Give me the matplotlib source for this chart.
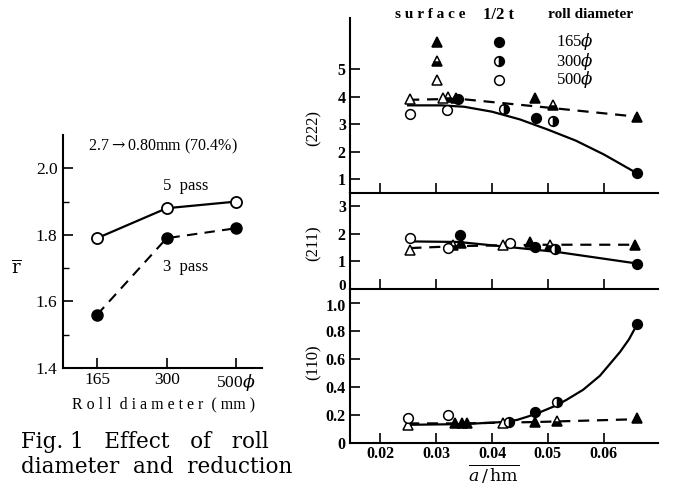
import matplotlib
matplotlib.use("Agg")
import matplotlib.pyplot as plt
from matplotlib.lines import Line2D
import matplotlib.transforms as mtransforms

W, H = 689, 488
SERIF = ['Liberation Serif', 'DejaVu Serif']
plt.rcParams['font.family'] = SERIF
plt.rcParams['mathtext.fontset'] = 'dejavuserif'

# ---------------- Data: left chart (r-bar vs roll diameter) ----------------
roll_labels = ['165', '300', '500$\\phi$']
r_5pass = [1.79, 1.88, 1.90]
r_3pass = [1.56, 1.79, 1.82]

# ---------------- Data: right chart, x = a/hm ----------------
# (222)
p222 = {
    'surf165': ([0.0336, 0.0477, 0.0659], [3.95, 3.95, 3.27]),
    'surf300': ([0.0322, 0.0509], [3.98, 3.70]),
    'surf500': ([0.0254, 0.0313], [3.90, 3.95]),
    'half165': ([0.0339, 0.0479, 0.0659], [3.90, 3.22, 1.22]),
    'half300': ([0.0421, 0.0509], [3.55, 3.10]),
    'half500': ([0.0254, 0.0320], [3.38, 3.50]),
}
c222_solid_x = [0.025, 0.031, 0.035, 0.040, 0.045, 0.050, 0.055, 0.060, 0.0659]
c222_solid_y = [3.68, 3.68, 3.63, 3.45, 3.17, 2.80, 2.40, 1.90, 1.22]
c222_dash_x = [0.025, 0.034, 0.048, 0.0659]
c222_dash_y = [3.88, 3.92, 3.64, 3.27]

# (211)
p211 = {
    'surf165': ([0.0345, 0.0468, 0.0655], [1.65, 1.70, 1.59]),
    'surf300': ([0.0330, 0.0504], [1.60, 1.59]),
    'surf500': ([0.0254, 0.0420], [1.41, 1.59]),
    'half165': ([0.0343, 0.0477, 0.0660], [1.95, 1.52, 0.90]),
    'half300': ([0.0513], [1.45]),
    'half500': ([0.0254, 0.0321, 0.0432], [1.84, 1.48, 1.66]),
}
c211_solid_x = [0.0254, 0.034, 0.0414, 0.0516, 0.066]
c211_solid_y = [1.72, 1.70, 1.55, 1.34, 0.92]
c211_dash_x = [0.0254, 0.034, 0.042, 0.050, 0.0655]
c211_dash_y = [1.48, 1.55, 1.58, 1.60, 1.60]

# (110)
p110 = {
    'surf165': ([0.0334, 0.0346, 0.0355, 0.0477, 0.0660], [0.14, 0.14, 0.14, 0.15, 0.18]),
    'surf300': ([0.0516], [0.16]),
    'surf500': ([0.0250, 0.0420], [0.13, 0.14]),
    'half165': ([0.0477, 0.0660], [0.22, 0.85]),
    'half300': ([0.0430, 0.0516], [0.15, 0.29]),
    'half500': ([0.0250, 0.0322], [0.18, 0.20]),
}
c110_solid_x = [0.025, 0.035, 0.042, 0.0445, 0.0465, 0.0486, 0.0516, 0.0534,
                0.0563, 0.0593, 0.0610, 0.0629, 0.0645, 0.066]
c110_solid_y = [0.13, 0.135, 0.15, 0.165, 0.19, 0.22, 0.27, 0.31,
                0.38, 0.48, 0.56, 0.65, 0.74, 0.85]
c110_dash_x = [0.025, 0.035, 0.048, 0.066]
c110_dash_y = [0.14, 0.14, 0.15, 0.17]

x_ticks = [0.02, 0.03, 0.04, 0.05, 0.06]
legend_rows = ['165$\\phi$', '300$\\phi$', '500$\\phi$']

# ---------------- Styles ----------------
styles = {
    'surf165': dict(marker='^', ms=7.5, mfc='black', mec='black'),
    'surf300': dict(marker='^', ms=7.5, mfc='black', mec='black', fillstyle='bottom', mfcalt='white'),
    'surf500': dict(marker='^', ms=7.5, mfc='white', mec='black'),
    'half165': dict(marker='o', ms=7, mfc='black', mec='black'),
    'half300': dict(marker='o', ms=7, mfc='black', mec='black', fillstyle='right', mfcalt='white'),
    'half500': dict(marker='o', ms=7, mfc='white', mec='black'),
}


def fx(px):
    return px / W


def fy(py):
    return 1 - py / H


fig = plt.figure(figsize=(W / 100, H / 100), dpi=100)
fig.patch.set_facecolor('white')

# ---------------- Left chart ----------------
axL = fig.add_axes([fx(63), fy(368), fx(262) - fx(63), fy(135) - fy(368)])
xs = list(range(len(roll_labels)))
axL.plot(xs, r_5pass, '-', color='black', lw=1.6, marker='o', ms=8,
         mfc='white', mec='black', mew=1.3, zorder=3)
axL.plot(xs, r_3pass, color='black', lw=1.5, ls=(0, (5, 3.5)), marker='o', ms=8,
         mfc='black', mec='black', zorder=3)
axL.set_xlim(-0.49, 2.37)
axL.set_ylim(1.4, 2.1)
axL.set_yticks([1.4, 1.6, 1.8, 2.0])
axL.set_yticklabels(['1.4', '1.6', '1.8', '2.0'])
axL.set_yticks([1.5, 1.7, 1.9], minor=True)
axL.set_xticks(xs)
axL.set_xticklabels(roll_labels)
for s in ['top', 'right']:
    axL.spines[s].set_visible(False)
for s in ['left', 'bottom']:
    axL.spines[s].set_linewidth(1.5)
axL.tick_params(axis='both', which='major', direction='in', length=7, width=1.2,
                labelsize=12.5)
axL.tick_params(axis='y', which='minor', direction='in', length=4, width=1.0)
axL.tick_params(axis='x', pad=3)
axL.tick_params(axis='y', pad=4)

fig.text(fx(88), fy(146), '2.7$\\rightarrow$0.80mm (70.4%)', fontsize=11.5,
         va='center', ha='left')
fig.text(fx(163), fy(186), '5  pass', fontsize=12, va='center', ha='left')
fig.text(fx(163), fy(267), '3  pass', fontsize=12, va='center', ha='left')
fig.text(fx(16), fy(268), '$\\overline{\\mathrm{r}}$', fontsize=13, va='center', ha='center')
fig.text(fx(164), fy(404), 'R o l l  d i a m e t e r  ( mm )', fontsize=11.5,
         va='center', ha='center')
fig.text(fx(21), fy(442), 'Fig. 1   Effect   of   roll', fontsize=15.5,
         va='center', ha='left', family='DejaVu Serif')
fig.text(fx(21), fy(467), 'diameter  and  reduction', fontsize=15.5,
         va='center', ha='left', family='DejaVu Serif')

# ---------------- Right charts ----------------
x0, x1 = fx(350), fx(658)
panels = [
    (p222, c222_solid_x, c222_solid_y, c222_dash_x, c222_dash_y, 193, 18,
     (0.5, 6.85), [1, 2, 3, 4, 5], ['1', '2', '3', '4', '5'], '(222)', 128),
    (p211, c211_solid_x, c211_solid_y, c211_dash_x, c211_dash_y, 289, 193,
     (0.0, 3.47), [0, 1, 2, 3], ['0', '1', '2', '3'], '(211)', 243),
    (p110, c110_solid_x, c110_solid_y, c110_dash_x, c110_dash_y, 443, 289,
     (0.0, 1.1), [0, 0.2, 0.4, 0.6, 0.8, 1.0], ['0', '0.2', '0.4', '0.6', '0.8', '1.0'],
     '(110)', 362),
]
axes_r = []
for i, (pts, sx, sy, dx, dy, pb, pt, ylim, yt, ytl, lab, laby) in enumerate(panels):
    ax = fig.add_axes([x0, fy(pb), x1 - x0, fy(pt) - fy(pb)])
    ax.plot(sx, sy, '-', color='black', lw=1.6, zorder=2)
    ax.plot(dx, dy, color='black', lw=1.6, ls=(0, (5, 3.5)), zorder=2)
    for key, (px, py) in pts.items():
        ax.plot(px, py, ls='none', zorder=3, clip_on=False, mew=1.1, **styles[key])
    ax.set_xlim(0.0146, 0.0697)
    ax.set_ylim(*ylim)
    ax.set_yticks(yt)
    ax.set_yticklabels(ytl)
    ax.set_xticks(x_ticks)
    if i < 2:
        ax.set_xticklabels([])
    else:
        ax.set_xticklabels(['0.02', '0.03', '0.04', '0.05', '0.06'])
    for s in ['top', 'right']:
        ax.spines[s].set_visible(False)
    for s in ['left', 'bottom']:
        ax.spines[s].set_linewidth(1.5)
    ax.tick_params(axis='both', direction='in', length=7, width=1.2, labelsize=11.5)
    ax.tick_params(axis='y', pad=3)
    ax.tick_params(axis='x', pad=2)
    ax.patch.set_alpha(0)
    for t in ax.get_yticklabels() + ax.get_xticklabels():
        t.set_fontweight('bold')
    fig.text(fx(314), fy(laby), lab, rotation=90, fontsize=12, va='center', ha='center')
    axes_r.append(ax)

# nudge the "0" label of the (211) panel up a little so it clears the "1.0" below
zero_lbl = axes_r[1].get_yticklabels()[0]
zero_lbl.set_transform(zero_lbl.get_transform() +
                       mtransforms.ScaledTranslation(0, 4 / 100, fig.dpi_scale_trans))
zero_lbl.set_fontsize(11)
top_lbl = axes_r[2].get_yticklabels()[-1]
top_lbl.set_transform(top_lbl.get_transform() +
                      mtransforms.ScaledTranslation(0, -2 / 100, fig.dpi_scale_trans))

fig.text(fx(494), fy(474), '$\\overline{a\\,/\\,\\mathrm{hm}}$', fontsize=12.5,
         va='center', ha='center')

# ---------------- Legend (table) ----------------
fig.text(fx(395), fy(15), 's u r f a c e', fontsize=11, va='center', ha='left',
         fontweight='bold')
fig.text(fx(483), fy(15), '1/2 t', fontsize=12, va='center', ha='left', fontweight='bold')
fig.text(fx(548), fy(15), 'roll diameter', fontsize=11, va='center', ha='left',
         fontweight='bold')
row_y = [42, 61, 80]
tri_keys = ['surf165', 'surf300', 'surf500']
circ_keys = ['half165', 'half300', 'half500']
for ry, tk, ck, txt in zip(row_y, tri_keys, circ_keys, legend_rows):
    fig.add_artist(Line2D([fx(437)], [fy(ry)], ls='none', mew=1.1,
                          transform=fig.transFigure, **styles[tk]))
    fig.add_artist(Line2D([fx(499)], [fy(ry)], ls='none', mew=1.1,
                          transform=fig.transFigure, **styles[ck]))
    fig.text(fx(556), fy(ry), txt, fontsize=12, va='center', ha='left')

fig.savefig('out.png', dpi=100, facecolor='white')
